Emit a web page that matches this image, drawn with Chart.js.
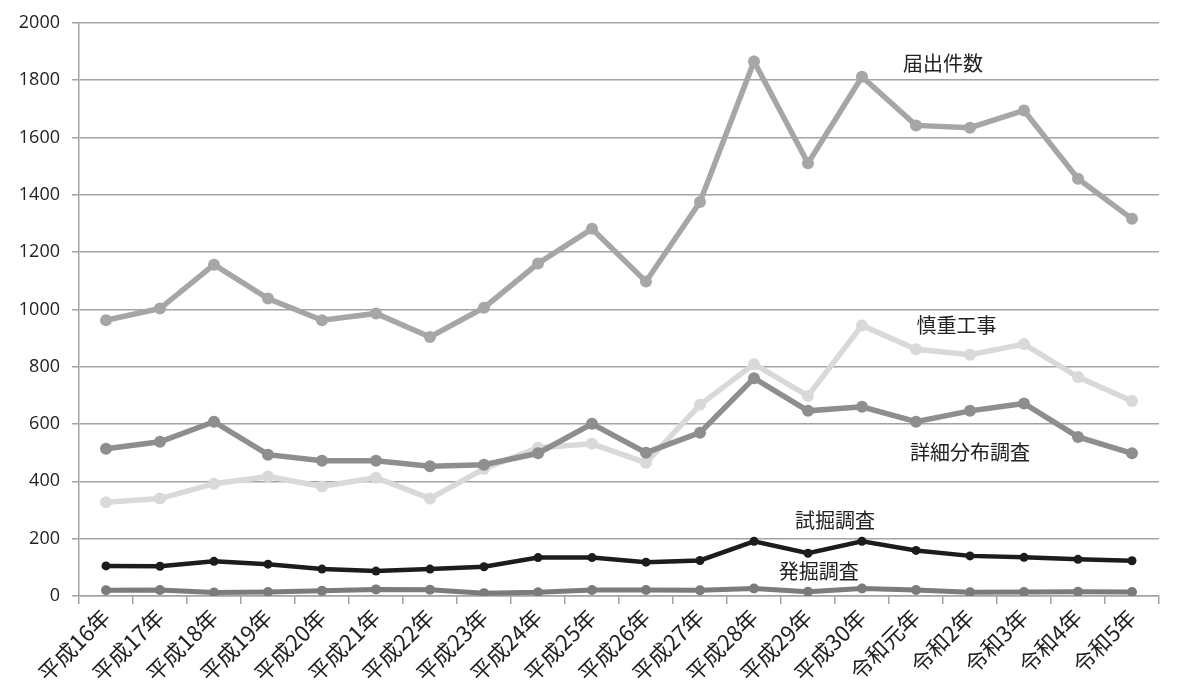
<!DOCTYPE html>
<html>
<head>
<meta charset="utf-8">
<script src="https://cdn.jsdelivr.net/npm/chart.js@4/dist/chart.umd.min.js"></script>
<style>
  html, body { margin: 0; padding: 0; background: #fff; }
  #wrap { width: 1184px; height: 689px; position: relative; }
</style>
</head>
<body>
<div id="wrap"><canvas id="chart"></canvas></div>
<script>
// 年度
const years = ['平成16年', '平成17年', '平成18年', '平成19年', '平成20年', '平成21年', '平成22年',
    '平成23年', '平成24年', '平成25年', '平成26年', '平成27年', '平成28年', '平成29年', '平成30年',
    '令和元年', '令和2年', '令和3年', '令和4年', '令和5年'];

// 各系列の値
const todokede = [962, 1003, 1156, 1038, 962, 986, 904, 1006, 1160, 1281, 1097, 1375, 1865, 1510, 1812, 1642, 1634, 1694, 1456, 1316];
const shousai = [514, 538, 608, 493, 472, 472, 453, 458, 498, 601, 500, 570, 760, 646, 660, 608, 646, 672, 555, 498];
const shinchou = [327, 340, 392, 417, 382, 413, 340, 444, 517, 531, 465, 667, 809, 698, 944, 861, 842, 879, 764, 680];
const shikutsu = [105, 104, 121, 111, 94, 87, 94, 102, 134, 134, 118, 124, 191, 149, 191, 159, 140, 135, 128, 123];
const hakkutsu = [20, 21, 12, 14, 18, 23, 22, 10, 13, 21, 21, 20, 26, 15, 26, 21, 13, 14, 15, 14];

const yTicks = [0, 200, 400, 600, 800, 1000, 1200, 1400, 1600, 1800, 2000];

// 系列ラベル（カテゴリ位置, 値）
const seriesLabels = [
    { text: '届出件数', x: 15.5, y: 1860 },
    { text: '慎重工事', x: 15.75, y: 945 },
    { text: '詳細分布調査', x: 16.0, y: 500 },
    { text: '試掘調査', x: 13.5, y: 265 },
    { text: '発掘調査', x: 13.2, y: 85 }
];

const gridColor = '#a3a3a3';
const textColor = '#222';

function makeSeries(label, data, color, width, radius) {
    return {
        label: label,
        data: data,
        borderColor: color,
        backgroundColor: color,
        borderWidth: width,
        pointRadius: radius,
        pointHoverRadius: radius,
        pointBorderWidth: 0,
        tension: 0
    };
}

const labelPlugin = {
    id: 'seriesLabels',
    afterDatasetsDraw(chart) {
        const ctx = chart.ctx;
        const xs = chart.scales.x;
        const ys = chart.scales.y;
        ctx.save();
        ctx.font = '20px "Noto Sans CJK JP"';
        ctx.fillStyle = textColor;
        ctx.textAlign = 'center';
        ctx.textBaseline = 'middle';
        seriesLabels.forEach(l => {
            const px = xs.getPixelForValue(0) + (xs.getPixelForValue(1) - xs.getPixelForValue(0)) * l.x;
            ctx.fillText(l.text, px, ys.getPixelForValue(l.y));
        });
        ctx.restore();
    }
};

const ctx = document.getElementById('chart').getContext('2d');
new Chart(ctx, {
    type: 'line',
    data: {
        labels: years,
        datasets: [
            makeSeries('試掘調査', shikutsu, '#1c1c1c', 4.5, 4.5),
            makeSeries('発掘調査', hakkutsu, '#7b7b7b', 5, 5),
            makeSeries('詳細分布調査', shousai, '#8e8e8e', 5.5, 6),
            makeSeries('慎重工事', shinchou, '#d9d9d9', 5.5, 6),
            makeSeries('届出件数', todokede, '#a6a6a6', 5.5, 6)
        ]
    },
    options: {
        responsive: true,
        maintainAspectRatio: false,
        animation: false,
        layout: { padding: { top: 20, right: 25, bottom: 0, left: 0 } },
        plugins: {
            legend: { display: false },
            tooltip: { enabled: false }
        },
        scales: {
            x: {
                offset: true,
                grid: {
                    offset: true,
                    drawOnChartArea: false,
                    drawTicks: true,
                    tickLength: 8,
                    color: gridColor,
                    lineWidth: 1.5
                },
                border: { color: gridColor, width: 1.5 },
                ticks: {
                    color: textColor,
                    font: { family: '"Noto Sans CJK JP"', size: 22 },
                    maxRotation: 45,
                    minRotation: 45,
                    autoSkip: false,
                    padding: 0
                },
                afterFit(scale) { scale.height = 93; }
            },
            y: {
                min: 0,
                max: 2000,
                afterBuildTicks(scale) { scale.ticks = yTicks.map(v => ({ value: v })); },
                grid: {
                    color: gridColor,
                    lineWidth: 1.5,
                    tickLength: 7
                },
                border: { color: gridColor, width: 1.5 },
                ticks: {
                    color: textColor,
                    font: { family: '"Open Sans"', size: 18 },
                    padding: 12,
                    callback: v => String(v)
                },
                afterFit(scale) { scale.width = 79; }
            }
        }
    },
    plugins: [labelPlugin]
});
</script>
</body>
</html>
